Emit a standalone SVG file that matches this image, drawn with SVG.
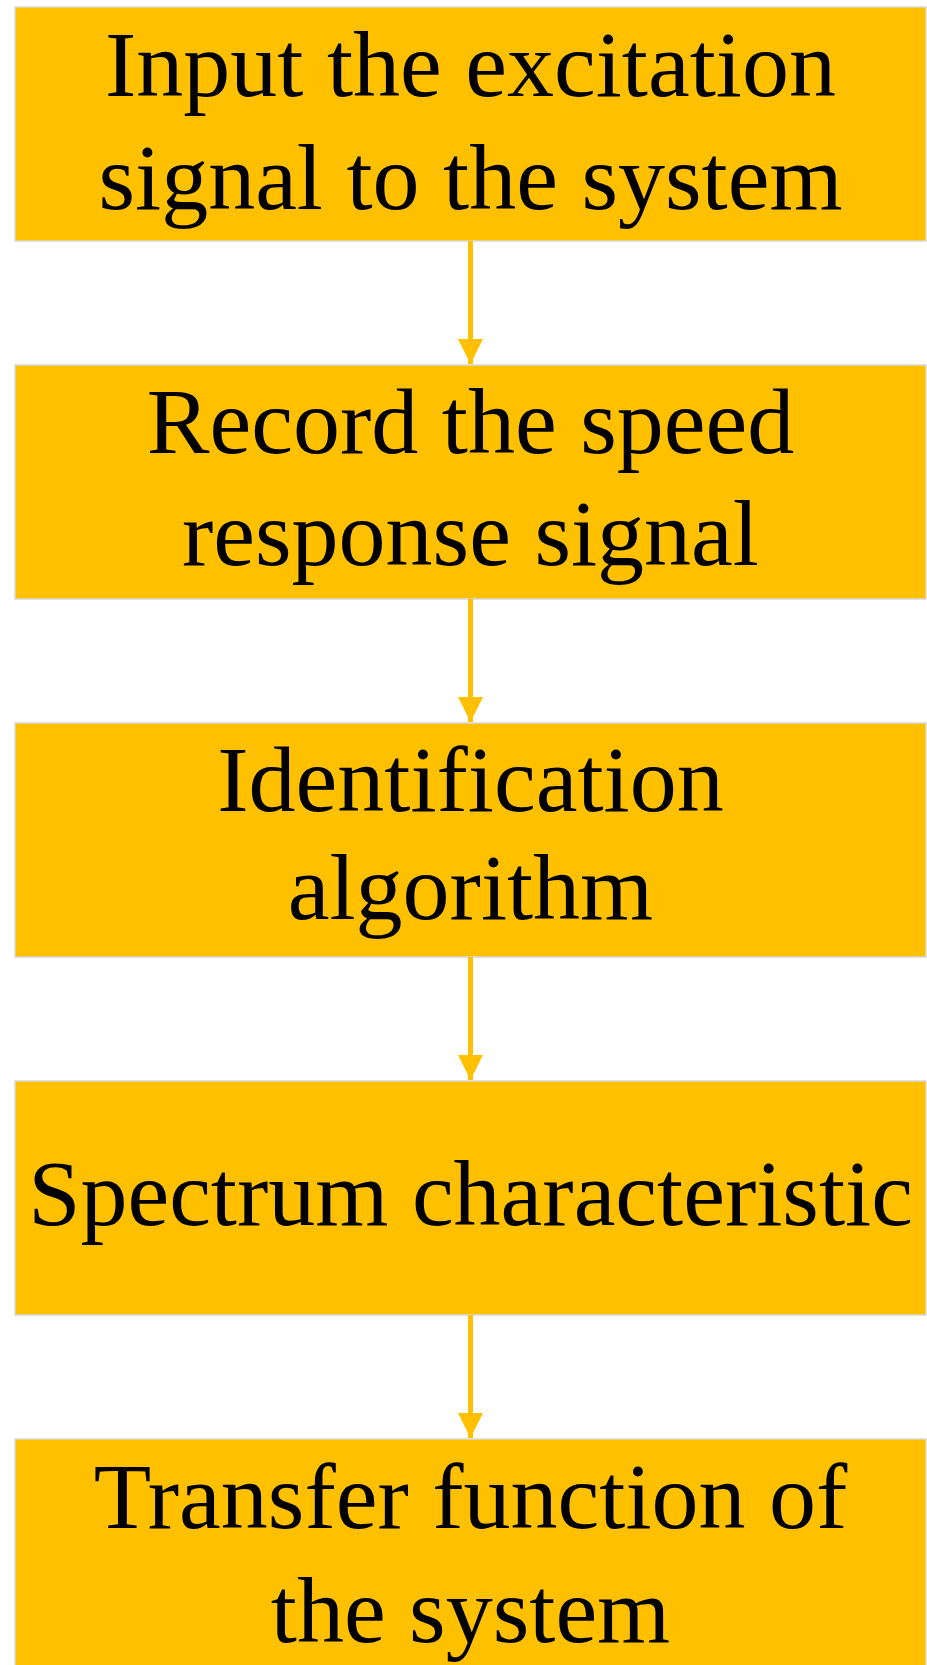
<svg xmlns="http://www.w3.org/2000/svg" width="927" height="1665" viewBox="0 0 927 1665">
  <defs>
    <marker id="arrow" viewBox="0 0 10 10" refX="10" refY="5" markerWidth="5" markerHeight="5" markerUnits="strokeWidth" orient="auto">
      <path d="M0,0 L10,5 L0,10 z" fill="#FFC000"/>
    </marker>
    <style>
      .box { fill: #FFC000; stroke: #D9D9D9; stroke-width: 1.5; }
      .lbl { font-family: "Liberation Serif", "Times New Roman", serif; font-size: 94px; fill: #000; text-anchor: middle; }
      .conn { stroke: #FFC000; stroke-width: 5; fill: none; }
    </style>
  </defs>
  <rect width="927" height="1665" fill="#FFFFFF"/>
  <g id="node1">
    <rect class="box" x="15" y="7" width="911" height="234"/>
    <text class="lbl" x="470.5" y="96">Input the excitation</text>
    <text class="lbl" x="470.5" y="209">signal to the system</text>
  </g>
  <g id="node2">
    <rect class="box" x="15" y="365" width="911" height="234"/>
    <text class="lbl" x="470.5" y="453">Record the speed</text>
    <text class="lbl" x="470.5" y="565">response signal</text>
  </g>
  <g id="node3">
    <rect class="box" x="15" y="723" width="911" height="234"/>
    <text class="lbl" x="470.5" y="811">Identification</text>
    <text class="lbl" x="470.5" y="919">algorithm</text>
  </g>
  <g id="node4">
    <rect class="box" x="15" y="1081" width="911" height="234"/>
    <text class="lbl" x="470.5" y="1225">Spectrum characteristic</text>
  </g>
  <g id="node5">
    <rect class="box" x="15" y="1439" width="911" height="240"/>
    <text class="lbl" x="470.5" y="1528">Transfer function of</text>
    <text class="lbl" x="470.5" y="1642">the system</text>
  </g>
  <g id="connectors">
    <line class="conn" x1="470.5" y1="241" x2="470.5" y2="364" marker-end="url(#arrow)"/>
    <line class="conn" x1="470.5" y1="599" x2="470.5" y2="722" marker-end="url(#arrow)"/>
    <line class="conn" x1="470.5" y1="957" x2="470.5" y2="1080" marker-end="url(#arrow)"/>
    <line class="conn" x1="470.5" y1="1315" x2="470.5" y2="1438" marker-end="url(#arrow)"/>
  </g>
</svg>
